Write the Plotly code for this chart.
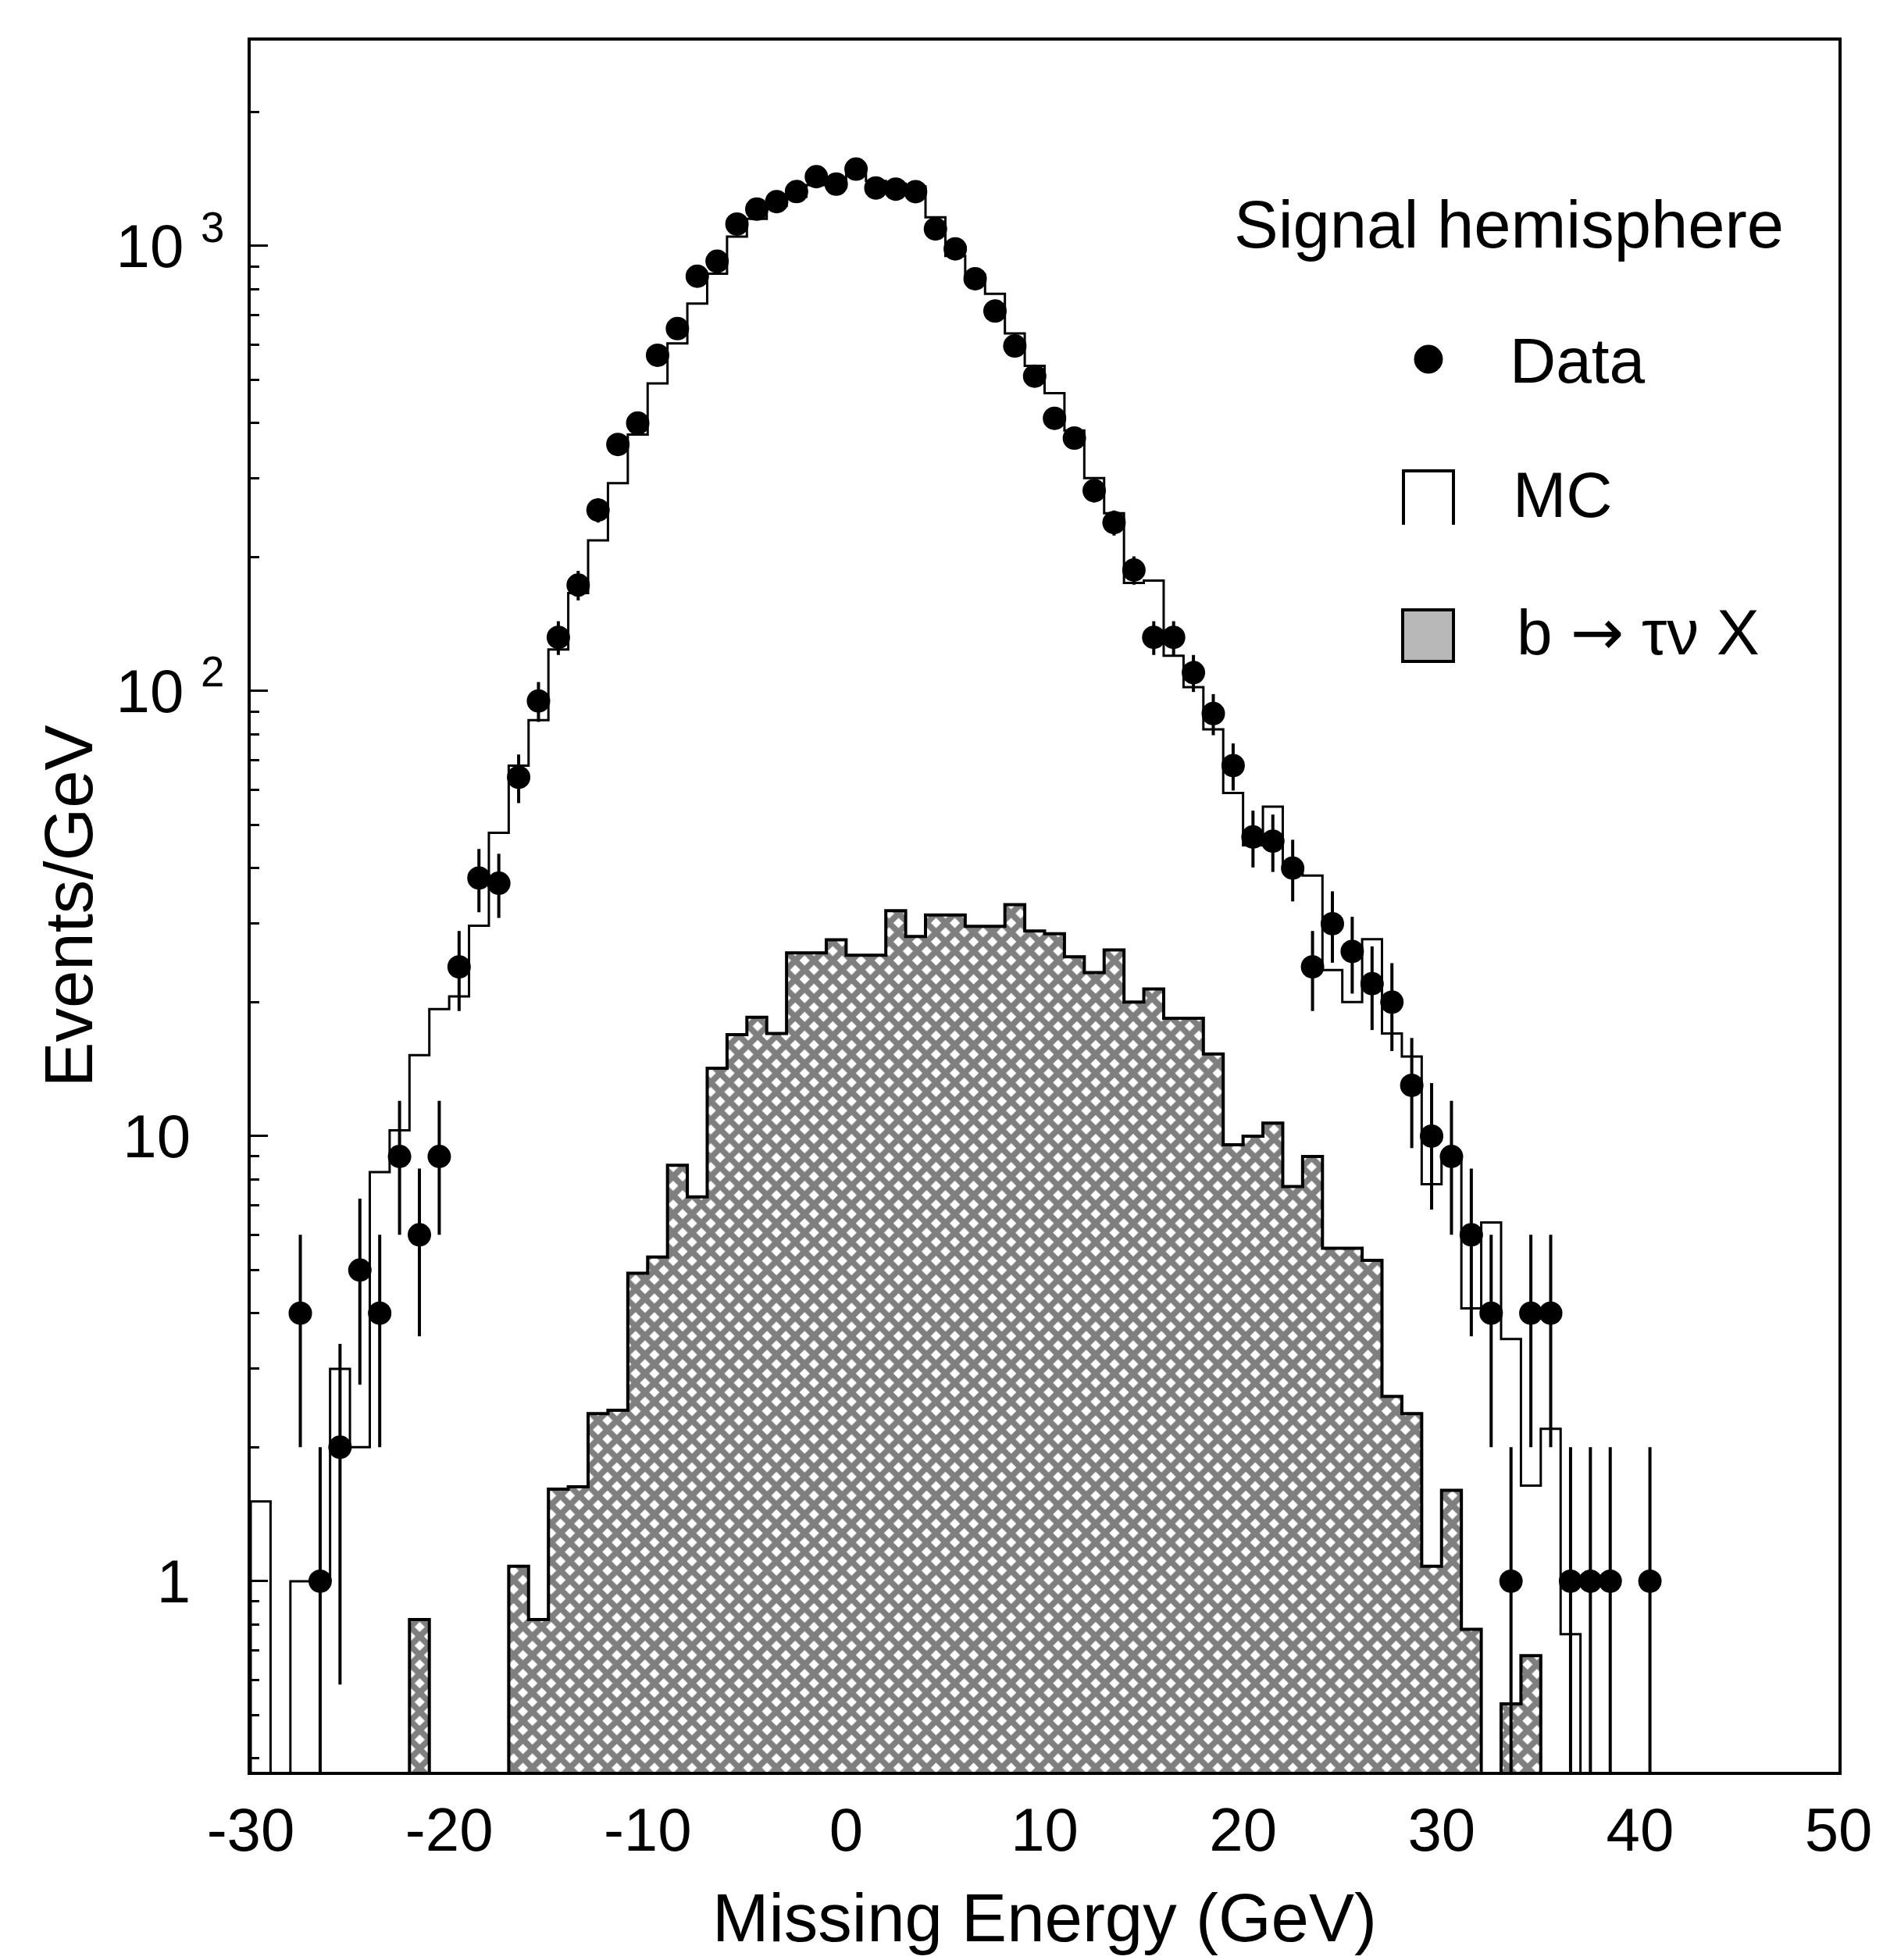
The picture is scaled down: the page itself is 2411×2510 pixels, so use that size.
import numpy as np
import plotly.graph_objects as go

# ---------------- data ----------------
# Data points: bin centres (GeV) and Events/GeV
data_x = [-27.5, -26.5, -25.5, -24.5, -23.5, -22.5, -21.5, -20.5, -19.5, -18.5,
          -17.5, -16.5, -15.5, -14.5, -13.5, -12.5, -11.5, -10.5, -9.5, -8.5,
          -7.5, -6.5, -5.5, -4.5, -3.5, -2.5, -1.5, -0.5, 0.5, 1.5,
          2.5, 3.5, 4.5, 5.5, 6.5, 7.5, 8.5, 9.5, 10.5, 11.5,
          12.5, 13.5, 14.5, 15.5, 16.5, 17.5, 18.5, 19.5, 20.5, 21.5,
          22.5, 23.5, 24.5, 25.5, 26.5, 27.5, 28.5, 29.5, 30.5, 31.5,
          32.5, 33.5, 34.5, 35.5, 36.5, 37.5, 38.5, 40.5]
data_y = [4, 1, 2, 5, 4, 9, 6, 9, 24, 38,
          37, 64, 95, 132, 173, 255, 358, 400, 568, 652,
          855, 924, 1120, 1210, 1258, 1325, 1431, 1377, 1488, 1350,
          1342, 1324, 1092, 985, 844, 714, 596, 510, 410, 370,
          282, 239, 187, 132, 132, 110, 89, 68, 47, 46,
          40, 24, 30, 26, 22, 20, 13, 10, 9, 6,
          4, 1, 4, 4, 1, 1, 1, 1]

# MC histogram: 1 GeV bins starting at -30 GeV
mc_start = -30
mc_vals = [1.51, 0, 1.0, 1.0, 3.0, 2.0, 8.3, 10.3, 15.2, 19.3,
           20.6, 29.7, 48, 68, 86, 124, 166, 218, 293, 377,
           491, 604, 742, 866, 1050, 1150, 1230, 1290, 1370, 1400,
           1450, 1400, 1380, 1360, 1160, 950, 860, 781, 636, 538,
           467, 385, 301, 251, 175, 177, 120, 102, 82, 59,
           45, 55, 40, 38.5, 23.6, 20.0, 27.7, 17.0, 15.1, 7.8,
           9.0, 4.1, 6.4, 3.5, 1.64, 2.2, 0.76]

# b -> tau nu X histogram: 1 GeV bins starting at -22 GeV
sig_start = -22
sig_vals = [0.82, 0, 0, 0, 0, 1.08, 0.82, 1.61, 1.63, 2.38,
            2.42, 4.92, 5.35, 8.6, 7.3, 14.2, 16.9, 18.5, 17.0, 25.8,
            25.8, 27.6, 25.5, 25.5, 32.1, 28.1, 31.4, 31.4, 29.6, 29.6,
            33.1, 28.9, 28.5, 25.3, 23.3, 26.2, 20.0, 21.4, 18.4, 18.4,
            15.3, 9.56, 10.0, 10.7, 7.7, 9.0, 5.6, 5.6, 5.26, 2.6,
            2.38, 1.08, 1.6, 0.78, 0, 0.53, 0.68]

x_ticks = [-30, -20, -10, 0, 10, 20, 30, 40, 50]
y_ticks = [1, 10, 100, 1000]
y_ticktext = ["1\u2007", "10\u2007", "10 <sup>2</sup>", "10 <sup>3</sup>"]

FLOOR = 1e-3  # empty bins drawn below the visible axis range


def step_xy(start, vals):
    xs, ys = [start], [FLOOR]
    for i, v in enumerate(vals):
        v = v if v > 0 else FLOOR
        xs += [start + i, start + i + 1]
        ys += [v, v]
    xs.append(start + len(vals))
    ys.append(FLOOR)
    return xs, ys


FONT = "Liberation Sans, Arial, Helvetica, sans-serif"
W, H = 2411, 2510
L, R, T, B = 313, 2346, 44, 2261  # plot area in pixels


def px(xp):
    return (xp - L) / (R - L)


def py(yp):
    return (B - yp) / (B - T)


fig = go.Figure()

sx, sy = step_xy(sig_start, sig_vals)
fig.add_trace(go.Scatter(
    x=sx, y=sy, mode="lines", fill="toself",
    fillpattern=dict(shape="x", size=17, solidity=0.7,
                     fgcolor="black", bgcolor="white"),
    line=dict(color="black", width=4), hoverinfo="skip", showlegend=False))

mx, my = step_xy(mc_start, mc_vals)
fig.add_trace(go.Scatter(
    x=mx, y=my, mode="lines", line=dict(color="black", width=3),
    hoverinfo="skip", showlegend=False))

dy = np.array(data_y, dtype=float)
err = np.sqrt(dy)
errm = np.minimum(err, dy * 0.999)
fig.add_trace(go.Scatter(
    x=data_x, y=data_y, mode="markers",
    marker=dict(size=30, color="black"),
    error_y=dict(type="data", symmetric=False, array=err, arrayminus=errm,
                 thickness=4, width=0, color="black"),
    showlegend=False))

# ---------------- legend (drawn by hand) ----------------
shapes = [
    dict(type="circle", xref="paper", yref="paper",
         x0=px(1803), x1=px(1839), y0=py(470), y1=py(434),
         fillcolor="black", line=dict(color="black", width=1)),
    dict(type="path", xref="paper", yref="paper",
         path="M {a},{b} L {a},{c} L {d},{c} L {d},{b}".format(
             a=px(1789), b=py(664), c=py(595), d=px(1853)),
         line=dict(color="black", width=4)),
    dict(type="rect", xref="paper", yref="paper",
         x0=px(1788), x1=px(1853), y0=py(839), y1=py(773),
         fillcolor="#b8b8b8", line=dict(color="black", width=4)),
]

arrow = '<span style="font-family:DejaVu Sans">\u2192</span>'
annotations = [
    dict(text="Signal hemisphere", x=px(1570), y=py(279), size=85),
    dict(text="Data", x=px(1923), y=py(454), size=82),
    dict(text="MC", x=px(1927), y=py(625), size=82),
    dict(text="b " + arrow + " \u03c4\u03bd X", x=px(1932), y=py(802), size=82),
]
for a in annotations:
    s = a.pop("size")
    a.update(xref="paper", yref="paper", xanchor="left", yanchor="middle",
             showarrow=False, font=dict(family=FONT, size=s, color="black"))

minor_vals = [m * 10.0 ** e for e in range(-1, 4) for m in range(2, 10)]

fig.update_layout(
    width=W, height=H,
    margin=dict(l=L, r=W - R, t=T, b=H - B, pad=0),
    paper_bgcolor="white", plot_bgcolor="white",
    font=dict(family=FONT, color="black"),
    shapes=shapes, annotations=annotations,
    xaxis=dict(
        range=[-30, 50], tickmode="array", tickvals=x_ticks,
        ticktext=[str(v) for v in x_ticks], ticks="",
        showline=True, mirror=True, linewidth=4, linecolor="black",
        showgrid=False, zeroline=False,
        tickfont=dict(family=FONT, size=78, color="black"),
        ticklabelstandoff=3,
        title=dict(text="Missing Energy (GeV)",
                   font=dict(family=FONT, size=87, color="black"),
                   standoff=40),
    ),
    yaxis=dict(
        type="log", range=[np.log10(0.373), np.log10(2893)],
        tickmode="array", tickvals=y_ticks, ticktext=y_ticktext,
        ticks="inside", ticklen=22, tickwidth=3, tickcolor="black",
        minor=dict(tickmode="array", tickvals=minor_vals, ticks="inside",
                   ticklen=11, tickwidth=3, tickcolor="black", showgrid=False),
        showline=True, mirror=True, linewidth=4, linecolor="black",
        showgrid=False, zeroline=False,
        tickfont=dict(family=FONT, size=78, color="black"),
        ticklabelstandoff=14,
        title=dict(text="Events/GeV",
                   font=dict(family=FONT, size=87, color="black"),
                   standoff=2),
    ),
)

fig.write_html("out.html")
